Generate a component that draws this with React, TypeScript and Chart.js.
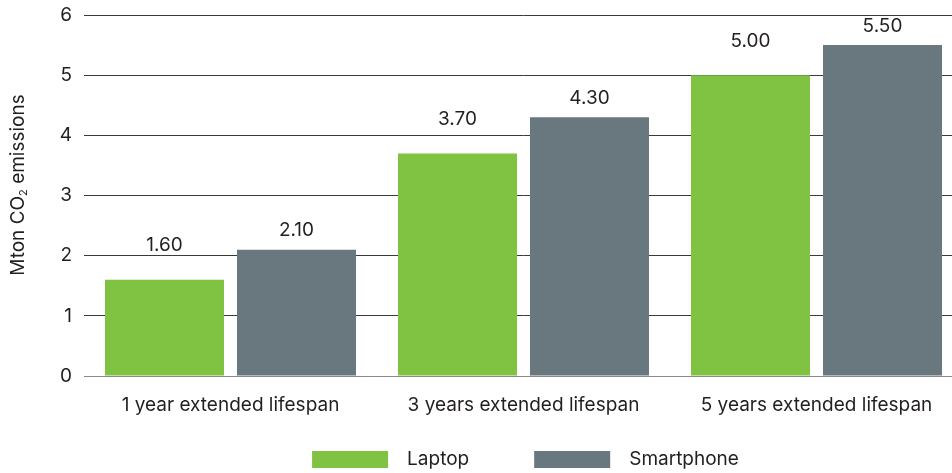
import React, { useEffect, useRef } from "react";
import Chart from "chart.js/auto";

// Lifespan-extension scenarios and the CO2 savings they bring (Mton)
const categories = [
  "1 year extended lifespan",
  "3 years extended lifespan",
  "5 years extended lifespan",
];
const laptopValues = [1.6, 3.7, 5.0];
const smartphoneValues = [2.1, 4.3, 5.5];
const seriesNames = ["Laptop", "Smartphone"];
const yTickValues = [0, 1, 2, 3, 4, 5, 6];

const GREEN = "#80c241";
const GREY = "#69777e";
const TEXT = "#231f20";
const FONT = "Inter, 'Liberation Sans', Arial, sans-serif";
const FONT_SIZE = 19;

// vertical distance of each series' value label above its bar top
const labelLift = [34, 19];

const valueLabels = {
  id: "valueLabels",
  afterDatasetsDraw(chart: any) {
    const ctx = chart.ctx;
    ctx.save();
    ctx.font = `${FONT_SIZE}px ${FONT}`;
    ctx.fillStyle = TEXT;
    ctx.textAlign = "center";
    ctx.textBaseline = "middle";
    chart.data.datasets.forEach((ds: any, di: number) => {
      const meta = chart.getDatasetMeta(di);
      meta.data.forEach((bar: any, i: number) => {
        ctx.fillText(Number(ds.data[i]).toFixed(2), bar.x, bar.y - labelLift[di]);
      });
    });
    ctx.restore();
  },
};

const axisTitle = {
  id: "axisTitle",
  afterDraw(chart: any) {
    const ctx = chart.ctx;
    ctx.save();
    ctx.translate(18, 185);
    ctx.rotate(-Math.PI / 2);
    ctx.fillStyle = TEXT;
    ctx.textBaseline = "middle";
    const main = `${FONT_SIZE}px ${FONT}`;
    const sub = `${Math.round(FONT_SIZE * 0.6)}px ${FONT}`;
    const parts = [
      { t: "Mton CO", f: main, dy: 0 },
      { t: "2", f: sub, dy: 6 },
      { t: " emissions", f: main, dy: 0 },
    ];
    let total = 0;
    parts.forEach((p) => {
      ctx.font = p.f;
      total += ctx.measureText(p.t).width;
    });
    let x = -total / 2;
    ctx.textAlign = "left";
    parts.forEach((p) => {
      ctx.font = p.f;
      ctx.fillText(p.t, x, p.dy);
      x += ctx.measureText(p.t).width;
    });
    ctx.restore();
  },
};

const boxLegend = {
  id: "boxLegend",
  afterDraw(chart: any) {
    const ctx = chart.ctx;
    const boxW = 76;
    const boxH = 17;
    const textGap = 19;
    const itemGap = 65;
    const cy = 459.5;
    ctx.save();
    ctx.font = `${FONT_SIZE}px ${FONT}`;
    const items = chart.data.datasets.map((ds: any) => ({
      label: ds.label,
      color: ds.backgroundColor,
      w: ctx.measureText(ds.label).width,
    }));
    let total = 0;
    items.forEach((it: any, i: number) => {
      total += boxW + textGap + it.w + (i < items.length - 1 ? itemGap : 0);
    });
    const area = chart.chartArea;
    let x = (area.left + area.right) / 2 - total / 2 + 2;
    ctx.textBaseline = "middle";
    ctx.textAlign = "left";
    items.forEach((it: any) => {
      ctx.fillStyle = it.color;
      ctx.fillRect(x, cy - boxH / 2, boxW, boxH);
      x += boxW + textGap;
      ctx.fillStyle = TEXT;
      ctx.fillText(it.label, x, cy);
      x += it.w + itemGap;
    });
    ctx.restore();
  },
};

export default function App() {
  const canvasRef = useRef<HTMLCanvasElement | null>(null);

  useEffect(() => {
    const canvas = canvasRef.current;
    if (!canvas) return;
    const chart = new Chart(canvas, {
      type: "bar",
      data: {
        labels: categories,
        datasets: [
          {
            label: seriesNames[0],
            data: laptopValues,
            backgroundColor: GREEN,
            categoryPercentage: 0.901,
            barPercentage: 0.9015,
          },
          {
            label: seriesNames[1],
            data: smartphoneValues,
            backgroundColor: GREY,
            categoryPercentage: 0.901,
            barPercentage: 0.9015,
          },
        ],
      },
      options: {
        responsive: false,
        animation: false,
        layout: { padding: { top: 0, right: 0, bottom: 0, left: 0 } },
        plugins: {
          legend: { display: false },
          tooltip: { enabled: false },
        },
        scales: {
          x: {
            grid: { display: false, drawTicks: false },
            border: { display: true, color: "#8a8a8a", width: 1 },
            ticks: {
              color: TEXT,
              padding: 18,
              font: { family: FONT, size: FONT_SIZE },
            },
            afterFit(scale: any) {
              scale.height = 97;
            },
          },
          y: {
            min: 0,
            max: 6,
            afterBuildTicks(scale: any) {
              scale.ticks = yTickValues.map((v) => ({ value: v }));
            },
            grid: { color: "#3a3a3a", lineWidth: 1, drawTicks: false },
            border: { display: false },
            ticks: {
              color: TEXT,
              padding: 12,
              font: { family: FONT, size: FONT_SIZE },
            },
            afterFit(scale: any) {
              scale.width = 84;
              scale.paddingTop = 15;
              scale.paddingBottom = 0;
            },
          },
        },
      },
      plugins: [valueLabels, axisTitle, boxLegend],
    });
    return () => chart.destroy();
  }, []);

  return (
    <div
      style={{
        position: "fixed",
        left: 0,
        top: 0,
        width: 952,
        height: 473,
        overflow: "hidden",
        background: "#fff",
      }}
    >
      <canvas ref={canvasRef} width={963} height={473} style={{ display: "block" }} />
    </div>
  );
}
